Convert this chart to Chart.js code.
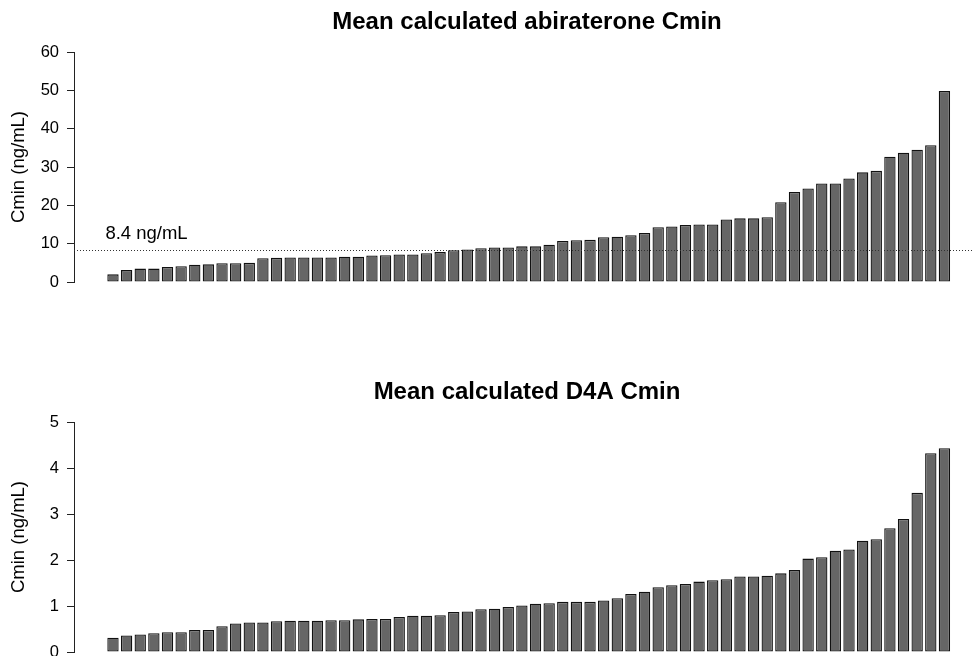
<!DOCTYPE html>
<html>
<head>
<meta charset="utf-8">
<script src="https://cdn.jsdelivr.net/npm/chart.js@4/dist/chart.umd.min.js"></script>
<style>
  html, body { margin: 0; padding: 0; background: #fff; overflow: hidden; }
  body { width: 972px; height: 656px; position: relative; }
  .panel { position: absolute; left: 0; width: 980px; height: 300px; }
  .panel canvas { display: block; }
</style>
</head>
<body>
<div class="panel" style="top:0px"><canvas id="abi"></canvas></div>
<div class="panel" style="top:370px"><canvas id="d4a"></canvas></div>
<script>
// Patient index (sorted by value), one bar per patient
const patients = Array.from({ length: 62 }, (_, i) => i + 1);

// Mean calculated abiraterone Cmin per patient (ng/mL), ascending
const abirateroneCmin = [
  2.0, 3.1, 3.5, 3.5, 3.9, 4.1, 4.5, 4.6, 4.9, 4.9,
  5.0, 6.2, 6.3, 6.4, 6.4, 6.4, 6.4, 6.6, 6.6, 6.9,
  7.0, 7.2, 7.2, 7.5, 7.8, 8.3, 8.5, 8.8, 9.0, 9.0,
  9.3, 9.3, 9.7, 10.7, 10.9, 11.0, 11.7, 11.8, 12.2, 12.8,
  14.3, 14.5, 14.9, 15.0, 15.0, 16.3, 16.6, 16.6, 16.9, 20.8,
  23.5, 24.4, 25.7, 25.7, 27.0, 28.6, 29.0, 32.7, 33.7, 34.5,
  35.7, 49.8
];

// Mean calculated D4A Cmin per patient (ng/mL), ascending
const d4aCmin = [
  0.31, 0.36, 0.38, 0.41, 0.43, 0.43, 0.48, 0.48, 0.56, 0.62,
  0.64, 0.64, 0.67, 0.68, 0.68, 0.68, 0.69, 0.69, 0.71, 0.72,
  0.72, 0.76, 0.79, 0.79, 0.80, 0.87, 0.88, 0.93, 0.94, 0.98,
  1.01, 1.05, 1.06, 1.09, 1.09, 1.09, 1.12, 1.17, 1.26, 1.31,
  1.41, 1.45, 1.48, 1.53, 1.56, 1.58, 1.64, 1.64, 1.66, 1.71,
  1.78, 2.03, 2.06, 2.20, 2.23, 2.42, 2.45, 2.69, 2.89, 3.46,
  4.32, 4.43
];

// Target threshold for abiraterone Cmin
const abiThreshold = 8.4;
const abiThresholdLabel = '8.4 ng/mL';

// Y-axis ticks
const abiTicks = [0, 10, 20, 30, 40, 50, 60];
const d4aTicks = [0, 1, 2, 3, 4, 5];

const titles = ['Mean calculated abiraterone Cmin', 'Mean calculated D4A Cmin'];
const yTitle = 'Cmin (ng/mL)';

const FONT = '"Liberation Sans", Arial, Helvetica, sans-serif';
// x-range padded like a base-graphics barplot
const X_MIN = -1.86;
const X_MAX = 64.61;

// Dotted reference line with its text label
const thresholdPlugin = {
  id: 'thresholdLine',
  afterDatasetsDraw(chart, args, opts) {
    if (opts.value == null) return;
    const { ctx, chartArea, scales } = chart;
    const y = Math.round(scales.y.getPixelForValue(opts.value)) + 0.5;
    ctx.save();
    ctx.strokeStyle = '#333';
    ctx.lineWidth = 1;
    ctx.setLineDash([1, 2]);
    ctx.beginPath();
    ctx.moveTo(chartArea.left, y);
    ctx.lineTo(chartArea.right, y);
    ctx.stroke();
    ctx.setLineDash([]);
    ctx.fillStyle = '#000';
    ctx.font = '18.5px ' + FONT;
    ctx.textAlign = 'center';
    ctx.textBaseline = 'alphabetic';
    ctx.fillText(opts.label, scales.x.getPixelForValue(opts.labelAt), y - 11.5);
    ctx.restore();
  }
};

function makeChart(id, title, values, ticks, threshold) {
  const yMax = ticks[ticks.length - 1];
  return new Chart(document.getElementById(id), {
    type: 'bar',
    data: {
      datasets: [{
        data: patients.map((p, i) => ({ x: p, y: values[i] })),
        backgroundColor: '#666666',
        borderColor: '#111111',
        borderWidth: 1.3,
        borderSkipped: false,
        barPercentage: 0.833,
        categoryPercentage: 1.0
      }]
    },
    options: {
      responsive: false,
      animation: false,
      devicePixelRatio: 1,
      layout: { padding: { top: 0, left: 0, right: 0, bottom: 18 } },
      plugins: {
        legend: { display: false },
        tooltip: { enabled: false },
        title: {
          display: true,
          text: title,
          fullSize: false,
          color: '#000',
          font: { family: FONT, size: 24, weight: 'bold', lineHeight: 1.2 },
          padding: { top: 8, bottom: 15.2 }
        },
        thresholdLine: threshold
      },
      scales: {
        x: {
          type: 'linear',
          min: X_MIN,
          max: X_MAX,
          display: false,
          offset: false
        },
        y: {
          min: 0,
          max: yMax,
          afterFit(scale) { scale.width = 74; },
          afterBuildTicks(scale) { scale.ticks = ticks.map(v => ({ value: v })); },
          grid: {
            drawOnChartArea: false,
            drawTicks: true,
            tickLength: 7,
            color: '#222',
            lineWidth: 1
          },
          border: { display: true, color: '#222', width: 1 },
          ticks: {
            color: '#000',
            padding: 8,
            font: { family: FONT, size: 16.5 }
          },
          title: {
            display: true,
            text: yTitle,
            color: '#000',
            font: { family: FONT, size: 18.5 },
            padding: { top: 8, bottom: 0 }
          }
        }
      }
    },
    plugins: [thresholdPlugin]
  });
}

function sizeCanvas(id) {
  const c = document.getElementById(id);
  c.width = 980; c.height = 300;
  c.style.width = '980px'; c.style.height = '300px';
}
sizeCanvas('abi');
sizeCanvas('d4a');

makeChart('abi', titles[0], abirateroneCmin, abiTicks,
  { value: abiThreshold, label: abiThresholdLabel, labelAt: 3.46 });
makeChart('d4a', titles[1], d4aCmin, d4aTicks, {});
</script>
</body>
</html>
